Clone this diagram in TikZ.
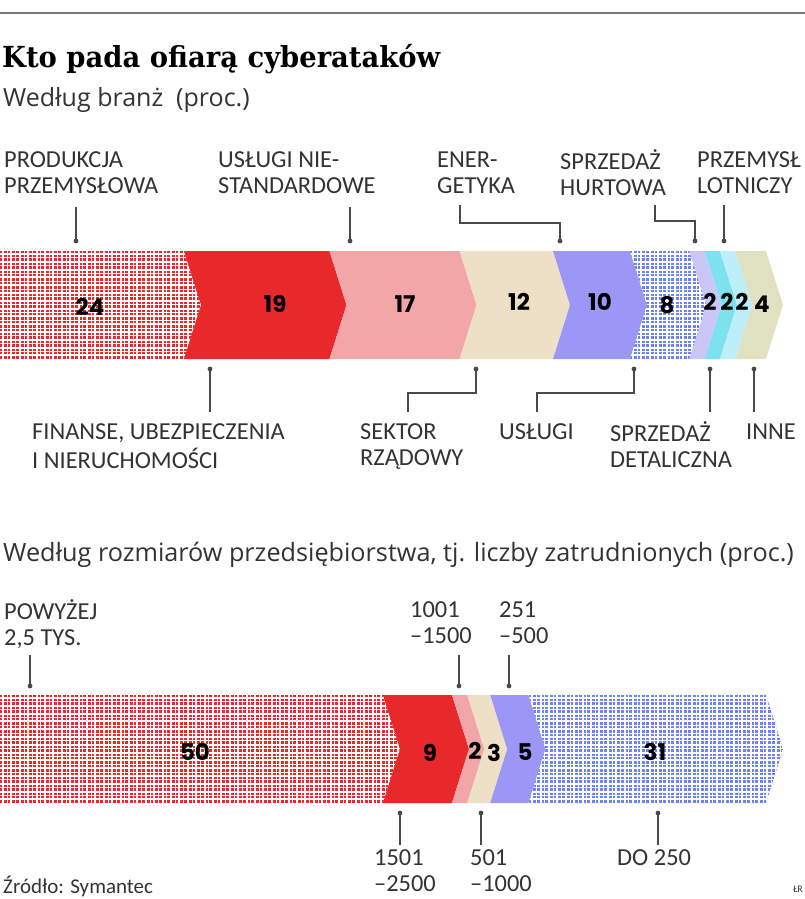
\documentclass[tikz,border=0pt]{standalone}
\usepackage{fontspec}
\setmainfont{Carlito}
\newfontfamily\titlefont{DejaVu Serif}[FakeStretch=0.945]
\newfontfamily\subfont{Open Sans}
\newfontfamily\numfont{Poppins}
\definecolor{cred}{HTML}{E8282B}
\definecolor{cpink}{HTML}{F2A6A8}
\definecolor{cbeige}{HTML}{EEDFC7}
\definecolor{cpurp}{HTML}{9C97F6}
\definecolor{cblue}{HTML}{6C83F2}
\definecolor{clav}{HTML}{CAC7F8}
\definecolor{ccyan}{HTML}{7DE2EE}
\definecolor{clcyan}{HTML}{BEEEF8}
\definecolor{ckhaki}{HTML}{DFE1C0}
\definecolor{leadgray}{HTML}{4A4A4A}
\definecolor{txtgray}{HTML}{333333}
\definecolor{rulegray}{HTML}{7A7A7A}
\newcommand\chevseg[5]{%
  \fill[#5] (#1,#3) -- (#2,#3) -- ({#2+17},{(#3+#4)/2}) -- (#2,#4) -- (#1,#4) -- ({#1+17},{(#3+#4)/2}) -- cycle;}
\newcommand\plaid[6]{%
  \begin{scope}
    \clip (#1,#3) -- (#2,#3) -- ({#2+17},{(#3+#4)/2}) -- (#2,#4) -- (#1,#4) -- ({#1+#6},{(#3+#4)/2}) -- cycle;
    \fill[#5] (#1,#3) rectangle ({#2+17},#4);
    \foreach \gx in {3,11.4,...,800} \draw[white,line width=2.1pt] (\gx,#3) -- (\gx,#4);
    \foreach \gx in {7.2,15.6,...,800} \draw[white,line width=1pt] (\gx,#3) -- (\gx,#4);
    \foreach \gy in {0,7.8,...,110} \draw[white,line width=2.1pt] (#1,{#3+3+\gy}) -- ({#2+17},{#3+3+\gy});
    \foreach \gy in {3.9,11.7,...,110} \draw[white,line width=1pt] (#1,{#3+3+\gy}) -- ({#2+17},{#3+3+\gy});
  \end{scope}}
\begin{document}
\begin{tikzpicture}[x=1pt,y=-1pt,
  lbl/.style={anchor=north west, inner sep=0pt, align=left, text=txtgray,
    font=\fontsize{24.4}{26}\selectfont},
  num/.style={inner sep=0pt, text=black, font=\numfont\bfseries\fontsize{23}{23}\selectfont},
  lead/.style={draw=leadgray, line width=1.4pt},
  dotc/.style={fill=leadgray}]
\useasboundingbox (0,0) rectangle (805,899);
\draw[rulegray, line width=2pt] (0,13) -- (805,13);

\node[anchor=base west, inner sep=0pt, font=\titlefont\bfseries\fontsize{29}{29}\selectfont] (title) at (2,67) {Kto pada ofiarą cyberataków};
\node[anchor=base west, inner sep=0pt, text=txtgray, font=\subfont\fontsize{25}{25}\selectfont] (sub1) at (3,106) {Według branż\ \ (proc.)};

% ---------- bar 1 ----------
\plaid{0}{184}{251}{359}{cred}{0}
\chevseg{184}{329.5}{251}{359}{cred}
\chevseg{329.5}{459.6}{251}{359}{cpink}
\chevseg{459.6}{553}{251}{359}{cbeige}
\chevseg{553}{630}{251}{359}{cpurp}
\plaid{630}{689.4}{251}{359}{cblue}{17}
\chevseg{689.4}{704.7}{251}{359}{clav}
\chevseg{704.7}{720}{251}{359}{ccyan}
\chevseg{720}{735.4}{251}{359}{clcyan}
\chevseg{735.4}{766}{251}{359}{ckhaki}

\node[num] (n24) at (90,307) {24};
\node[num] (n19) at (275,304) {19};
\node[num] (n17) at (405,304) {17};
\node[num] (n12) at (519,302) {12};
\node[num] (n10) at (600,302) {10};
\node[num] (n8) at (667,305) {8};
\node[num] (n2a) at (710,302) {2};
\node[num] (n2b) at (727,302) {2};
\node[num] (n2c) at (742,302) {2};
\node[num] (n4) at (762,304) {4};

% top labels bar 1
\node[lbl] (lprod) at (4,149) {\strut PRODUKCJA\\PRZEMYSŁOWA};
\node[lbl] (lnie) at (218,149) {\strut USŁUGI NIE-\\STANDARDOWE};
\node[lbl] (lener) at (437,149) {\strut ENER-\\GETYKA};
\node[lbl] (lhurt) at (560,149) {\strut SPRZEDAŻ\\HURTOWA};
\node[lbl] (llot) at (697,149) {\strut PRZEMYSŁ\\LOTNICZY};

\coordinate (a1) at (76,207); \coordinate (a2) at (76,241);
\coordinate (b1) at (350,207); \coordinate (b2) at (350,241);
\coordinate (c1) at (460,205); \coordinate (c2) at (560,223); \coordinate (c3) at (560,241);
\coordinate (d1) at (655,205); \coordinate (d2) at (695,221); \coordinate (d3) at (695,241);
\coordinate (e1) at (724,205); \coordinate (e2) at (724,241);
\draw[lead] (a1) -- (a2);
\draw[lead] (b1) -- (b2);
\draw[lead] (c1) |- (c2) -- (c3);
\draw[lead] (d1) |- (d2) -- (d3);
\draw[lead] (e1) -- (e2);
\foreach \p in {a2,b2,c3,d3,e2} \fill[dotc] (\p) circle (2.4);

% bottom labels bar 1
\node[lbl] (lfin) at (32,421) {\strut FINANSE, UBEZPIECZENIA\\I NIERUCHOMOŚCI};
\node[lbl] (lsek) at (360,421) {\strut SEKTOR\\RZĄDOWY};
\node[lbl] (lusl) at (499,421) {\strut USŁUGI};
\node[lbl] (ldet) at (610,421) {\strut SPRZEDAŻ\\DETALICZNA};
\node[lbl] (linn) at (746,421) {\strut INNE};

\coordinate (f1) at (210,369); \coordinate (f2) at (210,412);
\coordinate (g1) at (476,369); \coordinate (g2) at (408,393); \coordinate (g3) at (408,412);
\coordinate (h1) at (634,369); \coordinate (h2) at (537,393); \coordinate (h3) at (537,412);
\coordinate (i1) at (710,369); \coordinate (i2) at (710,412);
\coordinate (j1) at (754,369); \coordinate (j2) at (754,412);
\draw[lead] (f1) -- (f2);
\draw[lead] (g1) |- (g2) -- (g3);
\draw[lead] (h1) |- (h2) -- (h3);
\draw[lead] (i1) -- (i2);
\draw[lead] (j1) -- (j2);
\foreach \p in {f1,g1,h1,i1,j1} \fill[dotc] (\p) circle (2.4);

% ---------- section 2 ----------
\node[anchor=base west, inner sep=0pt, text=txtgray, font=\subfont\fontsize{25.2}{25.2}\selectfont] (sub2) at (3,561) {Według rozmiarów przedsiębiorstwa, tj. liczby zatrudnionych (proc.)};

\plaid{0}{383}{695}{803}{cred}{0}
\chevseg{383}{452}{695}{803}{cred}
\chevseg{452}{467.3}{695}{803}{cpink}
\chevseg{467.3}{490.2}{695}{803}{cbeige}
\chevseg{490.2}{528.5}{695}{803}{cpurp}
\plaid{528.5}{766}{695}{803}{cblue}{17}

\node[num] (m50) at (195,752) {50};
\node[num] (m9) at (430,753) {9};
\node[num] (m2) at (475,751) {2};
\node[num] (m3) at (494,753) {3};
\node[num] (m5) at (525,752) {5};
\node[num] (m31) at (655,752) {31};

\node[lbl] (lpow) at (4,599) {\strut POWYŻEJ\\2,5 TYS.};
\node[lbl] (l1001) at (410,599) {\strut 1001\\–1500};
\node[lbl] (l251) at (499,599) {\strut 251\\–500};
\coordinate (p1) at (30,655); \coordinate (p2) at (30,686);
\coordinate (q1) at (459,655); \coordinate (q2) at (459,686);
\coordinate (r1) at (509,655); \coordinate (r2) at (509,686);
\draw[lead] (p1) -- (p2);
\draw[lead] (q1) -- (q2);
\draw[lead] (r1) -- (r2);
\foreach \p in {p2,q2,r2} \fill[dotc] (\p) circle (2.4);

\node[lbl] (l1501) at (374,847.5) {\strut 1501\\–2500};
\node[lbl] (l501) at (470,847.5) {\strut 501\\–1000};
\node[lbl] (ldo) at (617,847.5) {\strut DO 250};
\coordinate (s1) at (400,813); \coordinate (s2) at (400,845);
\coordinate (t1) at (481,813); \coordinate (t2) at (481,845);
\coordinate (u1) at (658,813); \coordinate (u2) at (658,845);
\draw[lead] (s1) -- (s2);
\draw[lead] (t1) -- (t2);
\draw[lead] (u1) -- (u2);
\foreach \p in {s1,t1,u1} \fill[dotc] (\p) circle (2.4);

\node[anchor=base west, inner sep=0pt, text=txtgray, font=\fontsize{21}{21}\selectfont] (src) at (3,893) {Źródło: Symantec};
\node[anchor=base east, inner sep=0pt, text=txtgray, font=\fontsize{10}{10}\selectfont] (sig) at (803,892) {ŁR};
\end{tikzpicture}
\end{document}
